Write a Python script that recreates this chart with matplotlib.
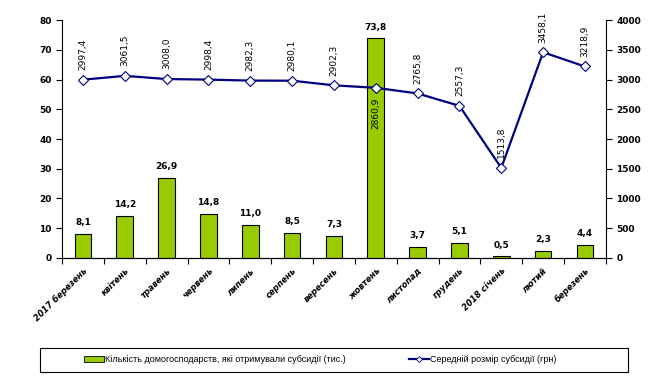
import matplotlib.pyplot as plt
from matplotlib.lines import Line2D
from matplotlib.patches import Rectangle
import numpy as np

months = ['2017 березень', 'квітень', 'травень', 'червень', 'липень', 'серпень',
          'вересень', 'жовтень', 'листопад', 'грудень', '2018 січень', 'лютий', 'березень']
households = [8.1, 14.2, 26.9, 14.8, 11.0, 8.5, 7.3, 73.8, 3.7, 5.1, 0.5, 2.3, 4.4]
avg_subsidy = [2997.4, 3061.5, 3008.0, 2998.4, 2982.3, 2980.1, 2902.3, 2860.9,
               2765.8, 2557.3, 1513.8, 3458.1, 3218.9]

bar_label = 'Кількість домогосподарств, які отримували субсидії (тис.)'
line_label = 'Середній розмір субсидії (грн)'

plt.rcParams['font.family'] = ['DejaVu Sans']

fig = plt.figure(figsize=(6.55, 3.78), dpi=100)
ax = fig.add_axes([0.0947, 0.3175, 0.8303, 0.6295])
ax2 = ax.twinx()

x = np.arange(len(months))
bars = ax.bar(x, households, width=0.4, color='#99cc00', edgecolor='black',
              linewidth=0.8, zorder=2)
ax.set_xlim(-0.5, len(months) - 0.5)
ax.set_ylim(0, 80)
ax.set_yticks(range(0, 81, 10))

for xi, v in zip(x, households):
    ax.annotate(f'{v:.1f}'.replace('.', ','), (xi, v), xytext=(0, 5),
                textcoords='offset points', ha='center', va='bottom',
                fontsize=6.5, fontweight='bold')

ax2.plot(x, avg_subsidy, color='#000080', linewidth=1.6, marker='D',
         markersize=5.5, markerfacecolor='white', markeredgecolor='#000080',
         markeredgewidth=0.8, zorder=3)
ax2.set_ylim(0, 4000)
ax2.set_yticks(range(0, 4001, 500))

for i, (xi, v) in enumerate(zip(x, avg_subsidy)):
    txt = f'{v:.1f}'.replace('.', ',')
    if i == 7:
        ax2.annotate(txt, (xi, v), xytext=(0, -7), textcoords='offset points',
                     ha='center', va='top', rotation=90, fontsize=6.5)
    else:
        ax2.annotate(txt, (xi, v), xytext=(0, 7), textcoords='offset points',
                     ha='center', va='bottom', rotation=90, fontsize=6.5)

# x ticks: labels at centers, tick marks at category boundaries
ax.set_xticks(x)
ax.set_xticklabels(months, rotation=45, ha='right', rotation_mode='anchor',
                   fontsize=6, fontweight='bold', fontstyle='italic')
ax.set_xticks(np.arange(-0.5, len(months), 1), minor=True)
ax.tick_params(axis='x', which='major', length=0, pad=6)
ax.tick_params(axis='x', which='minor', length=4, direction='out', width=0.8)
ax.tick_params(axis='y', length=4, direction='out', width=0.8, labelsize=6.5)
ax2.tick_params(axis='y', length=4, direction='out', width=0.8, labelsize=6.5)
for lab in ax.get_yticklabels() + ax2.get_yticklabels():
    lab.set_fontweight('bold')

for a in (ax, ax2):
    a.spines['top'].set_visible(False)
ax.spines['right'].set_visible(False)
ax2.spines['left'].set_visible(False)

# legend box drawn separately, entries centred inside
fig.patches.append(Rectangle((40 / 655, 6 / 378), 588 / 655, 24 / 378,
                             transform=fig.transFigure, fill=False,
                             edgecolor='black', linewidth=0.8))
bar_handle = Rectangle((0, 0), 1, 1, facecolor='#99cc00', edgecolor='black',
                       linewidth=0.6)
line_handle = Line2D([], [], color='#000080', linewidth=1.6, marker='D',
                     markersize=3, markerfacecolor='white',
                     markeredgecolor='#000080', markeredgewidth=0.6)
fig.legend([bar_handle, line_handle], [bar_label, line_label], loc='center',
           bbox_to_anchor=(320 / 655, 18 / 378), ncol=2, frameon=False,
           prop={'family': ['Liberation Sans Narrow', 'Liberation Sans'], 'size': 6.5},
           handlelength=2.2, handleheight=0.6, handletextpad=0.1,
           columnspacing=7)

fig.savefig('out.png', dpi=100)
